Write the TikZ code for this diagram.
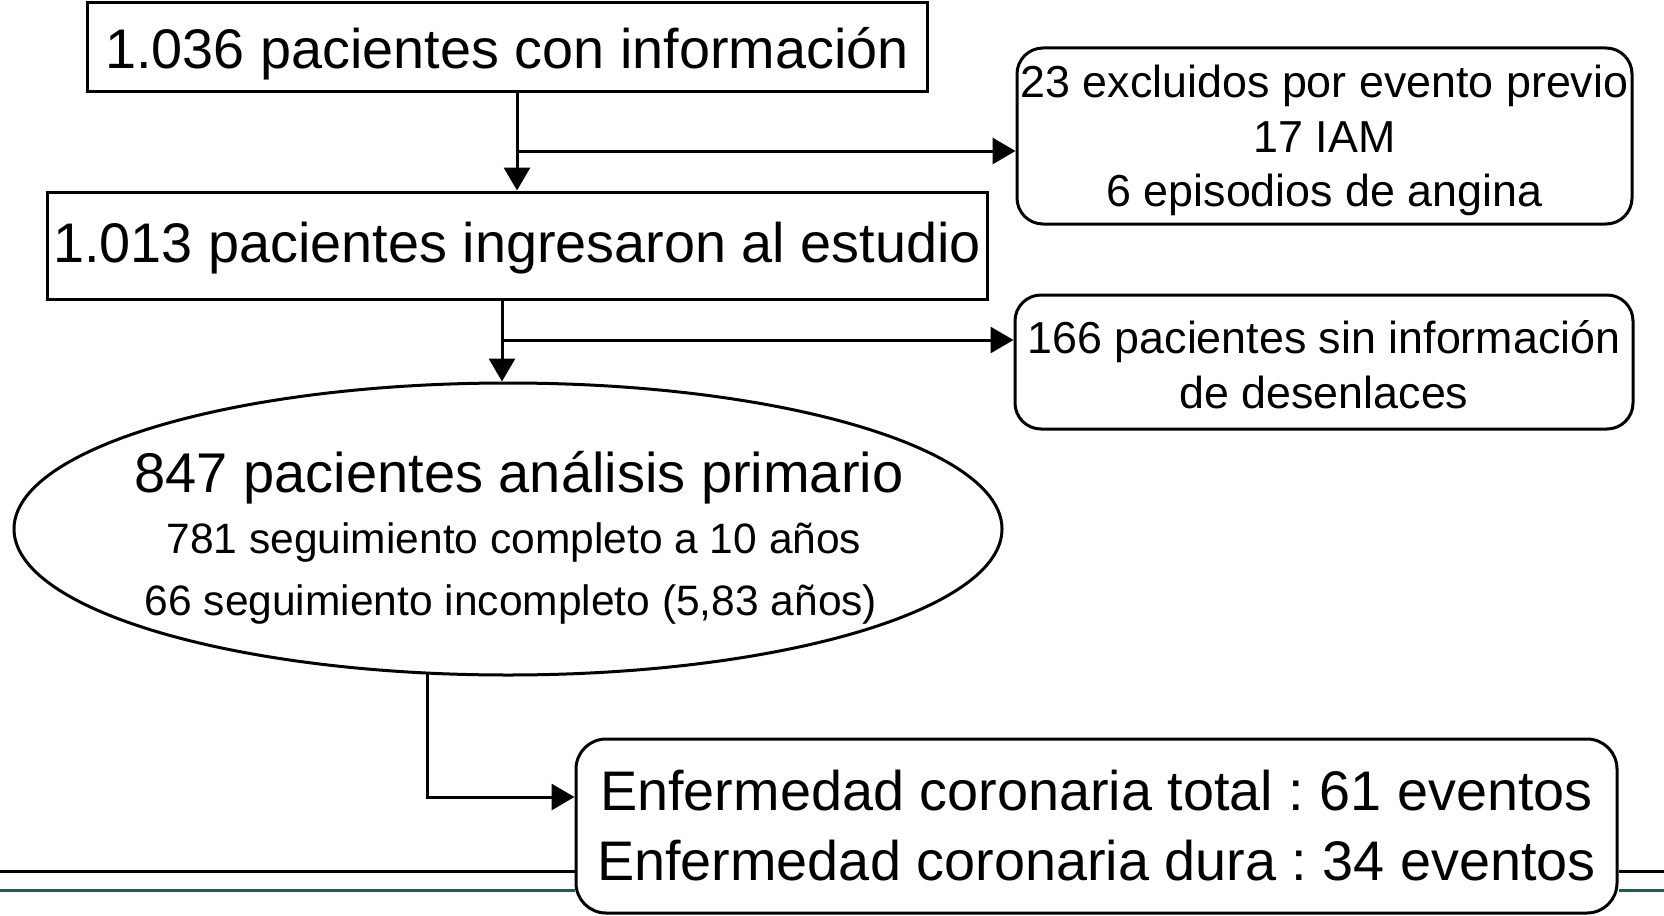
\documentclass[tikz,border=0pt]{standalone}
\usepackage{fontspec}
\setmainfont{Liberation Sans}
\usetikzlibrary{arrows.meta,shapes.geometric}
\definecolor{tealline}{RGB}{30,92,88}
\begin{document}
\frenchspacing
\begin{tikzpicture}[x=1pt,y=-1pt,
  box/.style={draw,line width=3pt,inner sep=0pt,align=center},
  rbox/.style={box,rounded corners=26pt},
  arr/.style={line width=3pt,-{Triangle[length=23pt,width=26pt]}},
  big/.style={font=\fontsize{55.8pt}{70pt}\selectfont},
  mid/.style={font=\fontsize{44.8pt}{54.5pt}\selectfont},
  small/.style={font=\fontsize{42.5pt}{50pt}\selectfont},
  rule/.style={line width=3pt}
]
\useasboundingbox (0,0) rectangle (1664,915);
% boxes
\node[box,big,minimum width=840pt,minimum height=89pt,text height=43pt,text depth=0pt] (b1) at (507,47.5) {1.036 pacientes con información};
\node[box,big,minimum width=940pt,minimum height=107pt,text height=33pt,text depth=0pt] (b2) at (517,245.5) {1.013 pacientes ingresaron al estudio};
\node[rbox,mid,minimum width=615pt,minimum height=176pt] (b3) at (1324.5,136) {\rule{0pt}{42pt}23 excluidos por evento previo\\17 IAM\\6 episodios de angina};
\node[rbox,mid,minimum width=618pt,minimum height=134pt] (b4) at (1324,362) {\rule{0pt}{38pt}166 pacientes sin información\\de desenlaces};
\node[draw,ellipse,line width=3pt,inner sep=0pt,minimum width=988pt,minimum height=292pt] (e) at (508,529) {};
\node[anchor=base,font=\fontsize{56pt}{60pt}\selectfont,inner sep=0pt] (t1) at (519,492) {847 pacientes análisis primario};
\node[anchor=base,small,inner sep=0pt] (t2) at (514,553) {781 seguimiento completo a 10 años};
\node[anchor=base,small,inner sep=0pt] (t3) at (511,615) {66 seguimiento incompleto (5,83 años)};
\node[rbox,big,rounded corners=30pt,minimum width=1041pt,minimum height=174pt] (b5) at (1096.5,826) {Enfermedad coronaria total : 61 eventos\\Enfermedad coronaria dura : 34 eventos};
% page rules
\coordinate (r1) at (0,871);
\coordinate (r2) at (0,890);
\coordinate (r1e) at (1664,871);
\coordinate (r2e) at (1664,890);
\draw[rule] (r1) -- (r1 -| b5.west);
\draw[rule] (r1 -| b5.east) -- (r1e);
\draw[rule,tealline] (r2) -- (r2 -| b5.west);
\draw[rule,tealline] (r2 -| b5.east) -- (r2e);
% connectors
\coordinate (j1) at (517,151);
\draw[line width=3pt] (b2.north |- b1.south) -- (j1);
\draw[arr] (j1) -- (b2.north);
\draw[arr] (j1) -- (j1 -| b3.west);
\coordinate (c2) at (502,340);
\draw[line width=3pt] (c2 |- b2.south) -- (c2);
\draw[arr] (c2) -- (c2 |- e.north);
\draw[arr] (c2) -- (c2 -| b4.west);
\coordinate (c3) at (427,797);
\draw[arr] (c3 |- e.240.6) -- (c3) -- (c3 -| b5.west);
\end{tikzpicture}
\end{document}
